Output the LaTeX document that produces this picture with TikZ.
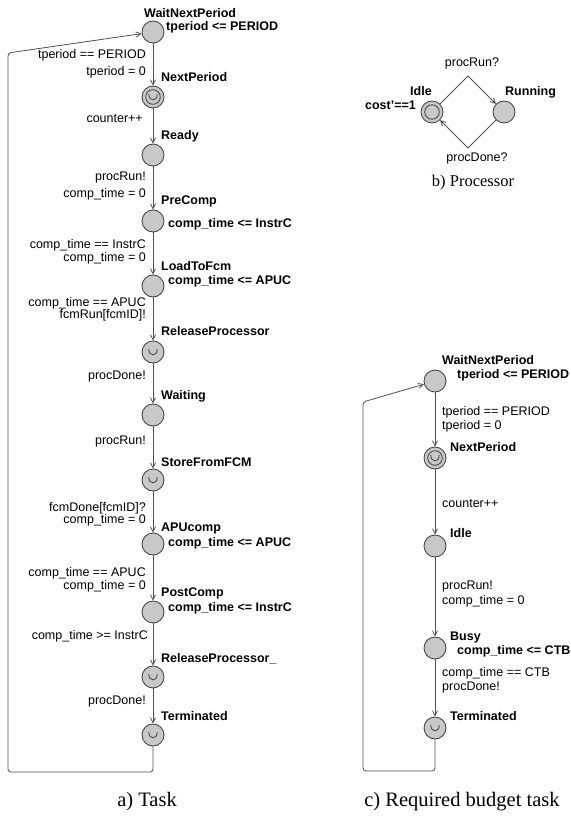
\documentclass[tikz,border=0pt]{standalone}
\usepackage{fontspec}
\setmainfont{Liberation Sans}
\newfontfamily\capfont{Liberation Serif}
\usetikzlibrary{arrows.meta}
\definecolor{locfill}{HTML}{C8C8C8}
\definecolor{locline}{HTML}{3C3C3C}
\definecolor{edgecol}{HTML}{505050}
\tikzset{
  loc/.style={circle,draw=locline,fill=locfill,minimum size=22pt,inner sep=0pt,line width=0.8pt},
  nm/.style={font=\bfseries\fontsize{12.5}{14}\selectfont,anchor=west,inner sep=0pt,text height=9pt,text depth=0pt},
  lblr/.style={font=\fontsize{12.5}{14}\selectfont,anchor=east,inner sep=0pt,text height=9pt,text depth=0pt},
  lbll/.style={font=\fontsize{12.5}{14}\selectfont,anchor=west,inner sep=0pt,text height=9pt,text depth=0pt},
  lblc/.style={font=\fontsize{12.5}{14}\selectfont,anchor=center,inner sep=0pt,text height=9pt,text depth=0pt},
  capt/.style={font=\capfont\fontsize{20.5}{24}\selectfont,anchor=center,inner sep=0pt},
  captb/.style={font=\capfont\fontsize{16.5}{20}\selectfont,anchor=center,inner sep=0pt},
  edge/.style={draw=edgecol,line width=0.8pt,-{Straight Barb[length=5pt,width=5pt]}},
  loop/.style={draw=edgecol,line width=0.8pt,rounded corners=3pt,-{Straight Barb[length=5pt,width=5pt]}},
  innerc/.style={draw=locline,line width=0.8pt},
}
\newcommand\urgsym[1]{\draw[locline,line width=0.8pt] ([shift={(-4.2,-2.8)}]#1.center) .. controls +(0,7.6) and +(0,7.6) .. ([shift={(4.2,-2.8)}]#1.center);}
\newcommand\dblsym[1]{\draw[innerc] (#1.center) circle[radius=7.3pt];}
\begin{document}
\begin{tikzpicture}[x=1pt,y=-1pt]
\useasboundingbox (0,0) rectangle (570,826);
% ---------- a) Task ----------
\node[loc] (t1) at (153,32) {};
\node[loc] (t2) at (153,97) {};
\node[loc] (t3) at (153,155) {};
\node[loc] (t4) at (153,221) {};
\node[loc] (t5) at (153,286) {};
\node[loc] (t6) at (153,352) {};
\node[loc] (t7) at (153,415) {};
\node[loc] (t8) at (153,480) {};
\node[loc] (t9) at (153,544) {};
\node[loc] (t10) at (153,612) {};
\node[loc] (t11) at (153,677) {};
\node[loc] (t12) at (153,735) {};
\dblsym{t2}\urgsym{t2}
\urgsym{t6}\urgsym{t8}\urgsym{t11}\urgsym{t12}
\draw[edge] (t1) -- (t2);
\draw[edge] (t2) -- (t3);
\draw[edge] (t3) -- (t4);
\draw[edge] (t4) -- (t5);
\draw[edge] (t5) -- (t6);
\draw[edge] (t6) -- (t7);
\draw[edge] (t7) -- (t8);
\draw[edge] (t8) -- (t9);
\draw[edge] (t9) -- (t10);
\draw[edge] (t10) -- (t11);
\draw[edge] (t11) -- (t12);
\coordinate (tl1) at (153,772);
\coordinate (tl2) at (8,772);
\coordinate (tl3) at (8,53);
\draw[loop] (t12) -- (tl1) -- (tl2) -- (tl3) -- (t1);
\node[nm] (n1) at (144,13) {WaitNextPeriod};
\node[nm] (i1) at (166,26) {tperiod <= PERIOD};
\node[lblr] (g1) at (146,54) {tperiod == PERIOD};
\node[lblr] (u1) at (146,71) {tperiod = 0};
\node[nm] (n2) at (161,77) {NextPeriod};
\node[lblr] (u2) at (143,118) {counter++};
\node[nm] (n3) at (161,135) {Ready};
\node[lblr] (s3) at (146,176) {procRun!};
\node[lblr] (u3) at (146,193) {comp\_time = 0};
\node[nm] (n4) at (161,200) {PreComp};
\node[nm] (i4) at (168,223) {comp\_time <= InstrC};
\node[lblr] (g4) at (146,244) {comp\_time == InstrC};
\node[lblr] (u4) at (146,257) {comp\_time = 0};
\node[nm] (n5) at (161,266) {LoadToFcm};
\node[nm] (i5) at (168,280) {comp\_time <= APUC};
\node[lblr] (g5) at (146,302) {comp\_time == APUC};
\node[lblr] (s5) at (146,314) {fcmRun[fcmID]!};
\node[nm] (n6) at (161,331) {ReleaseProcessor};
\node[lblr] (s6) at (146,375) {procDone!};
\node[nm] (n7) at (161,395) {Waiting};
\node[lblr] (s7) at (146,440) {procRun!};
\node[nm] (n8) at (161,462) {StoreFromFCM};
\node[lblr] (s8) at (146,507) {fcmDone[fcmID]?};
\node[lblr] (u8) at (146,519) {comp\_time = 0};
\node[nm] (n9) at (161,527) {APUcomp};
\node[nm] (i9) at (168,542) {comp\_time <= APUC};
\node[lblr] (g9) at (146,572) {comp\_time == APUC};
\node[lblr] (u9) at (146,585) {comp\_time = 0};
\node[nm] (n10) at (161,592) {PostComp};
\node[nm] (i10) at (168,607) {comp\_time <= InstrC};
\node[lblr] (g10) at (148,635) {comp\_time >= InstrC};
\node[nm] (n11) at (161,658) {ReleaseProcessor\_};
\node[lblr] (s11) at (146,700) {procDone!};
\node[nm] (n12) at (161,716) {Terminated};
\node[capt] (capa) at (147,802) {a) Task};
% ---------- b) Processor ----------
\node[loc] (p1) at (432,112) {};
\node[loc] (p2) at (504,112) {};
\dblsym{p1}
\coordinate (pt) at (468,76);
\coordinate (pb) at (468,148);
\draw[edge] (p1) -- (pt) -- (p2);
\draw[edge] (p2) -- (pb) -- (p1);
\node[nm] (pn1) at (410,91) {Idle};
\node[nm] (pn2) at (505,91) {Running};
\node[nm,anchor=east] (pc1) at (416,105) {cost{\char"27}==1};
\node[lblc] (ps1) at (472,62) {procRun?};
\node[lblc] (ps2) at (477,157) {procDone?};
\node[captb] (capb) at (473,183) {b) Processor};
% ---------- c) Required budget task ----------
\node[loc] (r1) at (435,381) {};
\node[loc] (r2) at (435,458) {};
\node[loc] (r3) at (435,546) {};
\node[loc] (r4) at (435,648) {};
\node[loc] (r5) at (435,728) {};
\dblsym{r2}\urgsym{r2}\urgsym{r5}
\draw[edge] (r1) -- (r2);
\draw[edge] (r2) -- (r3);
\draw[edge] (r3) -- (r4);
\draw[edge] (r4) -- (r5);
\coordinate (rl1) at (435,771);
\coordinate (rl2) at (363,771);
\coordinate (rl3) at (363,402);
\draw[loop] (r5) -- (rl1) -- (rl2) -- (rl3) -- (r1);
\node[nm] (rn1) at (442,360) {WaitNextPeriod};
\node[nm] (ri1) at (457,374) {tperiod <= PERIOD};
\node[lbll] (rg1) at (442,411) {tperiod == PERIOD};
\node[lbll] (ru1) at (442,425) {tperiod = 0};
\node[nm] (rn2) at (450,447) {NextPeriod};
\node[lbll] (ru2) at (442,503) {counter++};
\node[nm] (rn3) at (450,533) {Idle};
\node[lbll] (rs3) at (442,585) {procRun!};
\node[lbll] (ru3) at (442,600) {comp\_time = 0};
\node[nm] (rn4) at (450,636) {Busy};
\node[nm] (ri4) at (457,650) {comp\_time <= CTB};
\node[lbll] (rg4) at (442,672) {comp\_time == CTB};
\node[lbll] (rs4) at (442,686) {procDone!};
\node[nm] (rn5) at (450,716) {Terminated};
\node[capt] (capc) at (462,802) {c) Required budget task};
\end{tikzpicture}
\end{document}
